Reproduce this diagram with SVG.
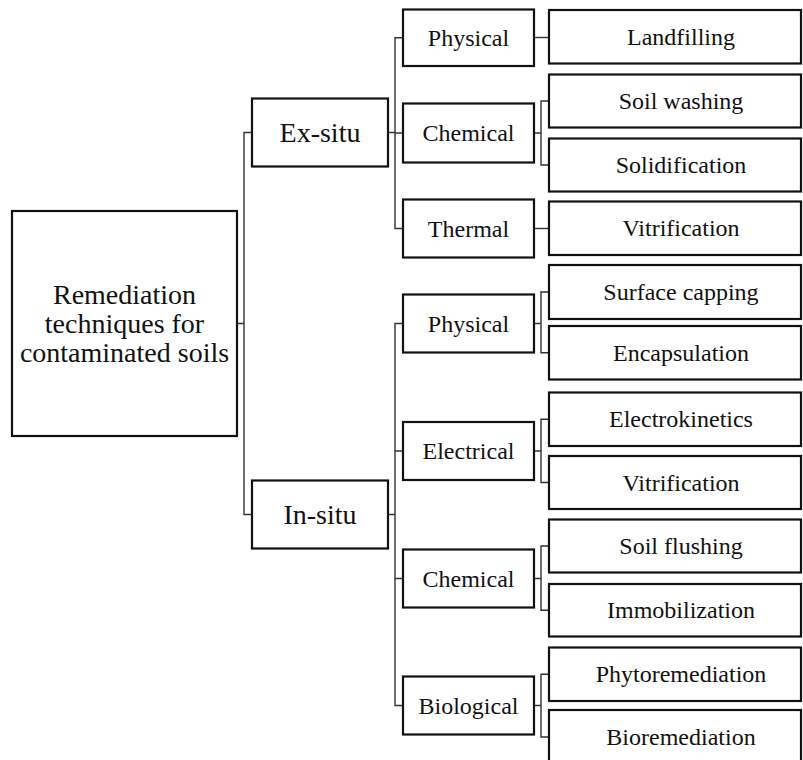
<svg xmlns="http://www.w3.org/2000/svg" width="803" height="760" viewBox="0 0 803 760">
<style>
  .box { fill: #ffffff; stroke: #111111; stroke-width: 2.2; }
  .conn { fill: none; stroke: #333333; stroke-width: 1.4; }
  .t { font-family: "Liberation Serif", "Times New Roman", serif; fill: #111111; text-anchor: middle; }
  .t28 { font-size: 28px; }
  .t24 { font-size: 24px; }
</style>
<rect width="803" height="760" fill="#ffffff"/>
<g id="connectors">
  <path class="conn" d="M237 323.5 H244 M252 132.5 H244 V514.5 H252"/>
  <path class="conn" d="M388 132.5 H395 M403 37.7 H395 V228.5 H403 M395 133 H403"/>
  <path class="conn" d="M534 37.5 H549"/>
  <path class="conn" d="M534 133 H541 M549 101 H541 V165 H549"/>
  <path class="conn" d="M534 228.5 H549"/>
  <path class="conn" d="M388 514.5 H395 M403 323.5 H395 V705.5 H403 M395 451 H403 M395 578.5 H403"/>
  <path class="conn" d="M534 323.5 H541 M549 292 H541 V352.7 H549"/>
  <path class="conn" d="M534 451 H541 M549 419.3 H541 V482.5 H549"/>
  <path class="conn" d="M534 578.5 H541 M549 546 H541 V610.3 H549"/>
  <path class="conn" d="M534 705.5 H541 M549 674.3 H541 V737 H549"/>
</g>
<g id="root">
  <rect class="box" x="12" y="211" width="225" height="225"/>
  <text class="t t28" x="124.5" y="303.5">Remediation</text>
  <text class="t t28" x="124.5" y="332.5">techniques for</text>
  <text class="t t28" x="124.5" y="361.5">contaminated soils</text>
</g>
<g id="ex-situ">
  <rect class="box" x="252" y="98.5" width="136" height="68"/>
  <text class="t t28" x="320" y="141.8">Ex-situ</text>
</g>
<g id="in-situ">
  <rect class="box" x="252" y="480.5" width="136" height="68"/>
  <text class="t t28" x="320" y="523.6">In-situ</text>
</g>
<g id="ex-physical">
  <rect class="box" x="403" y="9.5" width="131" height="56.5"/>
  <text class="t t24" x="468.5" y="45.7">Physical</text>
</g>
<g id="ex-chemical">
  <rect class="box" x="403" y="103.5" width="131" height="59"/>
  <text class="t t24" x="468.5" y="141">Chemical</text>
</g>
<g id="ex-thermal">
  <rect class="box" x="403" y="199.5" width="131" height="58"/>
  <text class="t t24" x="468.5" y="236.5">Thermal</text>
</g>
<g id="in-physical">
  <rect class="box" x="403" y="294.5" width="131" height="58"/>
  <text class="t t24" x="468.5" y="331.5">Physical</text>
</g>
<g id="in-electrical">
  <rect class="box" x="403" y="422" width="131" height="58"/>
  <text class="t t24" x="468.5" y="459">Electrical</text>
</g>
<g id="in-chemical">
  <rect class="box" x="403" y="549.5" width="131" height="58"/>
  <text class="t t24" x="468.5" y="586.5">Chemical</text>
</g>
<g id="in-biological">
  <rect class="box" x="403" y="676.5" width="131" height="58"/>
  <text class="t t24" x="468.5" y="713.5">Biological</text>
</g>
<g id="landfilling">
  <rect class="box" x="549" y="10" width="252" height="53.5"/>
  <text class="t t24" x="681" y="44.7">Landfilling</text>
</g>
<g id="soil-washing">
  <rect class="box" x="549" y="74.5" width="252" height="53"/>
  <text class="t t24" x="681" y="109">Soil washing</text>
</g>
<g id="solidification">
  <rect class="box" x="549" y="138.5" width="252" height="53"/>
  <text class="t t24" x="681" y="173">Solidification</text>
</g>
<g id="vitrification-ex">
  <rect class="box" x="549" y="201.5" width="252" height="53.5"/>
  <text class="t t24" x="681" y="236.3">Vitrification</text>
</g>
<g id="surface-capping">
  <rect class="box" x="549" y="265" width="252" height="54"/>
  <text class="t t24" x="681" y="300">Surface capping</text>
</g>
<g id="encapsulation">
  <rect class="box" x="549" y="326" width="252" height="53.5"/>
  <text class="t t24" x="681" y="360.7">Encapsulation</text>
</g>
<g id="electrokinetics">
  <rect class="box" x="549" y="392.5" width="252" height="53.5"/>
  <text class="t t24" x="681" y="427.3">Electrokinetics</text>
</g>
<g id="vitrification-in">
  <rect class="box" x="549" y="456" width="252" height="53"/>
  <text class="t t24" x="681" y="490.5">Vitrification</text>
</g>
<g id="soil-flushing">
  <rect class="box" x="549" y="519.5" width="252" height="53"/>
  <text class="t t24" x="681" y="554">Soil flushing</text>
</g>
<g id="immobilization">
  <rect class="box" x="549" y="584" width="252" height="52.5"/>
  <text class="t t24" x="681" y="618.3">Immobilization</text>
</g>
<g id="phytoremediation">
  <rect class="box" x="549" y="647.5" width="252" height="53.5"/>
  <text class="t t24" x="681" y="682.3">Phytoremediation</text>
</g>
<g id="bioremediation">
  <rect class="box" x="549" y="710" width="252" height="54"/>
  <text class="t t24" x="681" y="745">Bioremediation</text>
</g>
</svg>
